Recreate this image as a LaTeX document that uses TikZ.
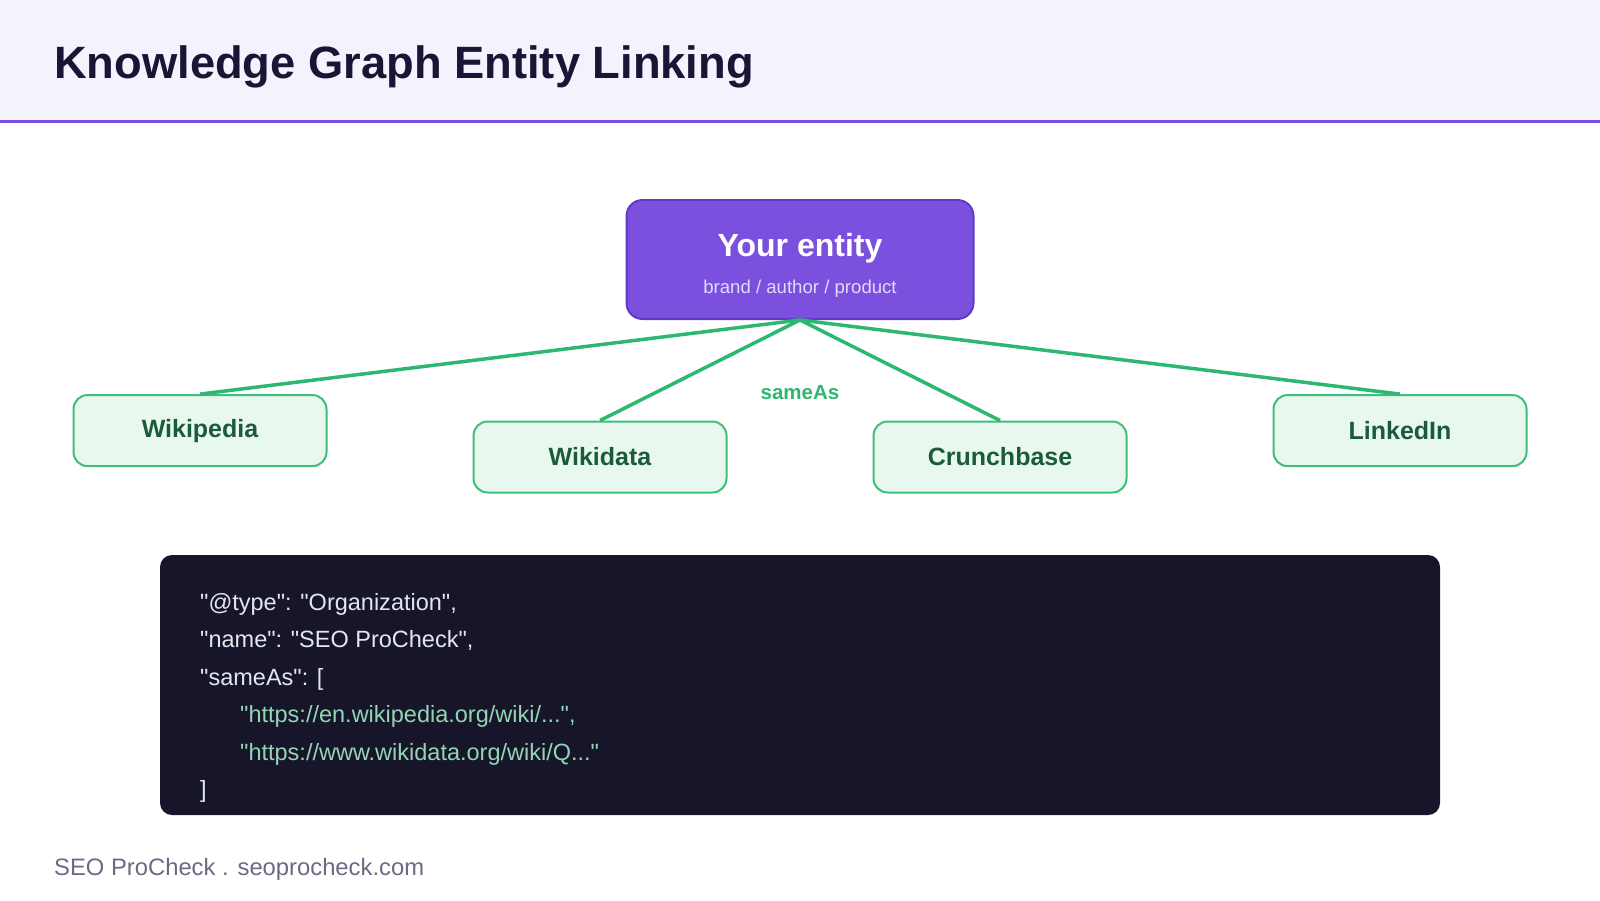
\documentclass[tikz,border=0pt]{standalone}
\usepackage{fontspec}
\setmainfont{Liberation Sans}
\newfontfamily\codefont{Liberation Sans}
\usetikzlibrary{positioning}

\definecolor{headbg}{HTML}{F4F2FD}
\definecolor{titlecol}{HTML}{1B1535}
\definecolor{purp}{HTML}{7B50DE}
\definecolor{purpdark}{HTML}{5D3CC6}
\definecolor{sublav}{HTML}{E2DAFA}
\definecolor{linkgreen}{HTML}{2DB86F}
\definecolor{leafline}{HTML}{3DBF79}
\definecolor{leaffill}{HTML}{E8F8EE}
\definecolor{leaftext}{HTML}{1A5C3A}
\definecolor{codebg}{HTML}{17152A}
\definecolor{codetext}{HTML}{E4E6EE}
\definecolor{codeurl}{HTML}{93D5B2}
\definecolor{footcol}{HTML}{6B6A85}

\begin{document}
\begin{tikzpicture}[x=1pt,y=-1pt]
    %\tikzset{every node/.style={draw=red}}
    \tikzset{
        entbox/.style={draw=purpdark,line width=2pt,fill=purp,rounded corners=16pt,
            minimum width=347pt,minimum height=119pt,inner sep=0pt},
        leaf/.style={draw=leafline,line width=2pt,fill=leaffill,rounded corners=14pt,
            minimum width=253pt,minimum height=71pt,inner sep=0pt,
            text=leaftext,font=\bfseries\fontsize{25}{30}\selectfont},
        link/.style={draw=linkgreen,line width=3.5pt},
        codeline/.style={anchor=base west,inner sep=0pt,text=codetext,
            font=\codefont\fontsize{23.5}{28}\selectfont},
        codeurl/.style={codeline,text=codeurl}
    }
    \useasboundingbox (0,0) rectangle (1600,900);
    % header
    \fill[headbg] (0,0) rectangle (1600,120);
    \draw[purp,line width=3.5pt] (0,121.5) -- (1600,121.5);
    \node[anchor=base west,inner sep=0pt,text=titlecol,
        font=\bfseries\fontsize{45.3}{50}\selectfont] (title) at (54,78) {Knowledge Graph Entity Linking};

    % entity and its links
    \node[entbox] (ent) at (800,259.5) {};
    \node[anchor=base,inner sep=0pt,text=white,font=\bfseries\fontsize{32}{38}\selectfont]
        (enttitle) at (800,256) {Your entity};
    \node[anchor=base,inner sep=0pt,text=sublav,font=\fontsize{18.6}{22}\selectfont]
        (entsub) at (800,293) {brand / author / product};

    \node[leaf] (wpd) at (200,430.6) {Wikipedia};
    \node[leaf] (wdt) at (600,457) {Wikidata};
    \node[leaf] (cbs) at (1000,457) {Crunchbase};
    \node[leaf] (lin) at (1400,430.6) {LinkedIn};

    \foreach \n in {wpd,wdt,cbs,lin}
        \draw[link] (ent.south) -- (\n.north);
    \node[text=linkgreen,font=\bfseries\fontsize{20.5}{24}\selectfont] (sameas) at (800,393) {sameAs};

    % json-ld snippet
    \fill[codebg,rounded corners=12pt] (160,555) rectangle (1440,815);
    \node[codeline] (c1) at (200,610) {"@type": "Organization",};
    \node[codeline] (c2) at (200,647.5) {"name": "SEO ProCheck",};
    \node[codeline] (c3) at (200,685) {"sameAs": [};
    \node[codeurl] (c4) at (240,722.5) {"https://en.wikipedia.org/wiki/...",};
    \node[codeurl] (c5) at (240,760) {"https://www.wikidata.org/wiki/Q..."};
    \node[codeline] (c6) at (200,797.5) {]};

    % footer
    \node[anchor=base west,inner sep=0pt,text=footcol,font=\fontsize{23.8}{28}\selectfont]
        (foot) at (54,875) {SEO ProCheck . seoprocheck.com};
\end{tikzpicture}
\end{document}
